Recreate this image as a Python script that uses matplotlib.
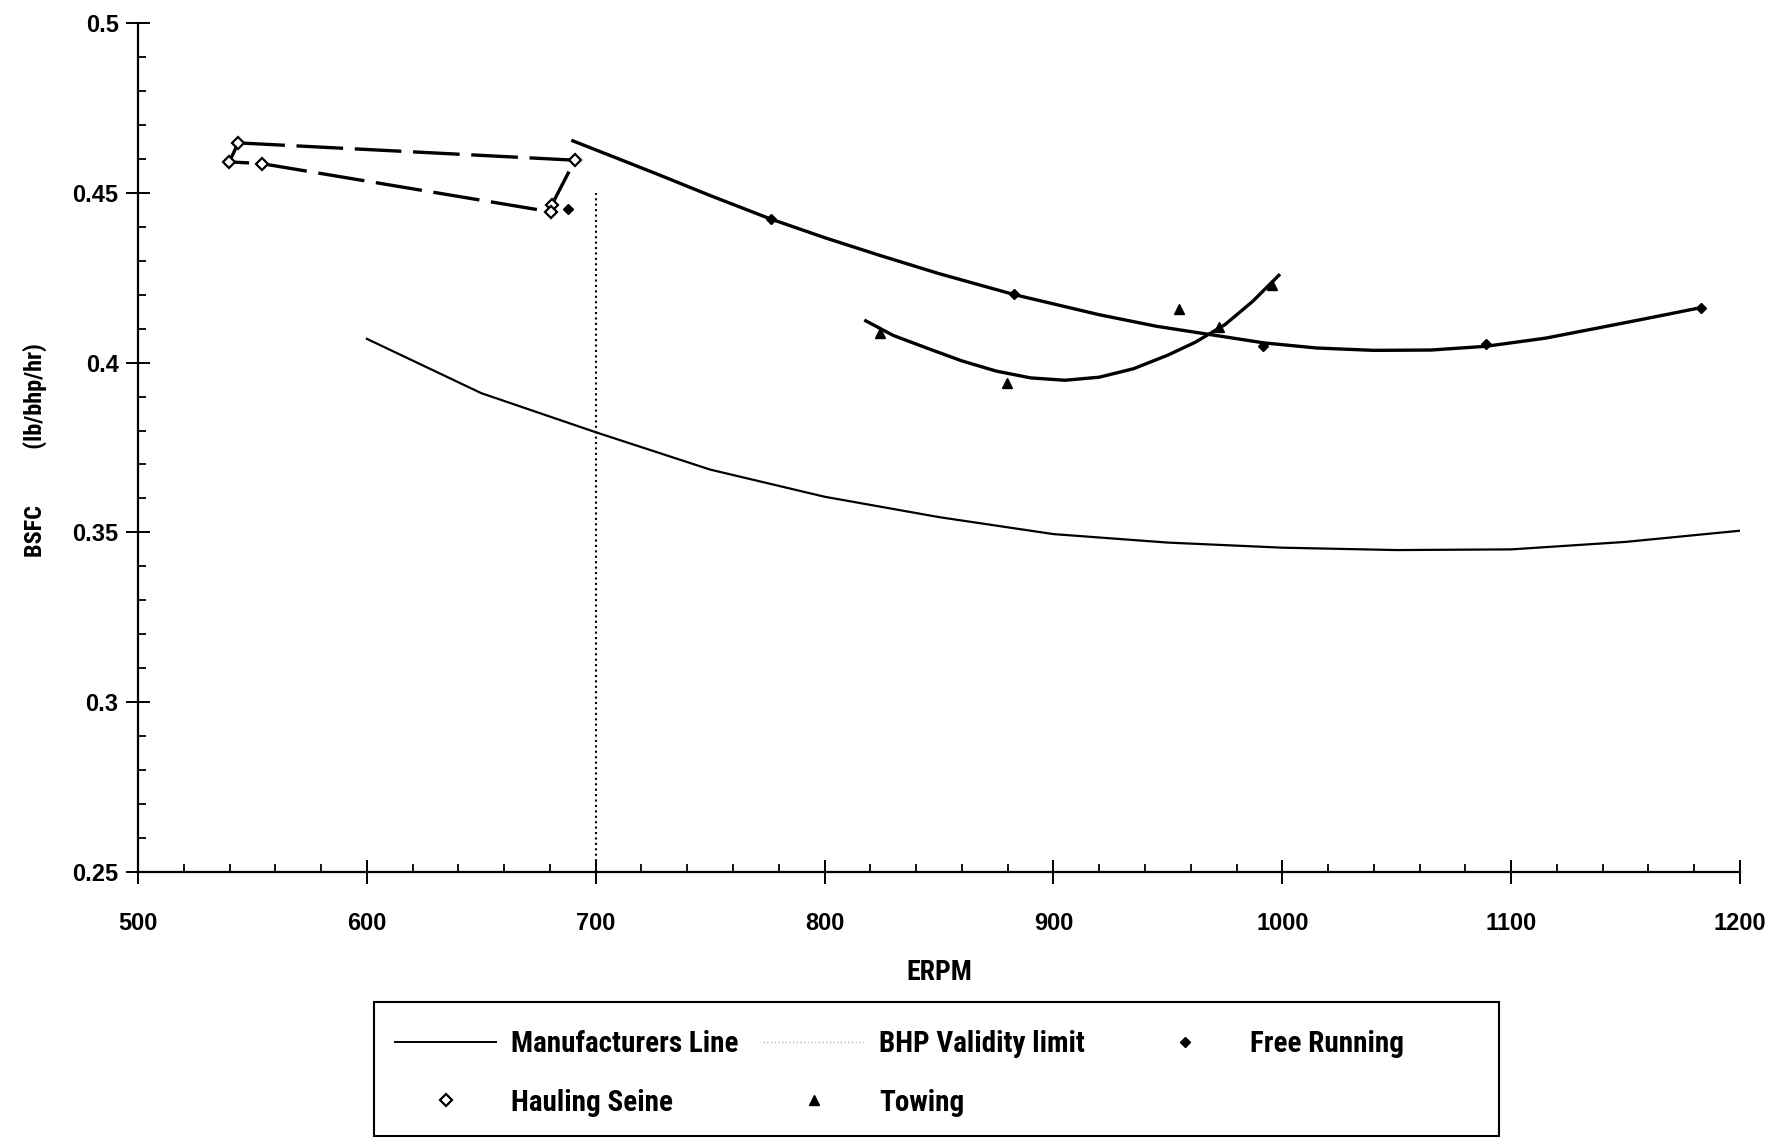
import matplotlib
matplotlib.use("Agg")
import matplotlib.pyplot as plt
from matplotlib import font_manager
from matplotlib.lines import Line2D
from matplotlib.patches import Rectangle
from matplotlib.ticker import MultipleLocator, FuncFormatter

# manufacturers line (BSFC vs engine rpm)
mfr_rpm = [600, 650, 700, 750, 800, 850, 900, 950, 1000, 1050, 1100, 1150, 1200]
mfr_bsfc = [0.407, 0.391, 0.3795, 0.3685, 0.3605, 0.3545, 0.3495, 0.347,
            0.3455, 0.3448, 0.345, 0.3472, 0.3505]

# BHP validity limit
bhp_limit_rpm = 700
bhp_limit_top = 0.45

# free running measurements and trend line
free_rpm = [688, 776.4, 882.8, 991.7, 1088.9, 1182.9]
free_bsfc = [0.4451, 0.4422, 0.4201, 0.4048, 0.4054, 0.4162]
free_fit_rpm = [690, 710, 728, 750, 776, 800, 824, 850, 883, 920, 945, 969,
                992, 1015, 1040, 1065, 1089, 1115, 1138, 1160, 1183]
free_fit_bsfc = [0.4653, 0.4600, 0.4552, 0.4492, 0.4424, 0.4368, 0.4316,
                 0.4262, 0.4200, 0.4141, 0.4107, 0.4082, 0.4058, 0.4043,
                 0.4036, 0.4037, 0.4048, 0.4072, 0.4102, 0.4131, 0.4162]

# hauling seine (joined in recorded order)
haul_rpm = [543.8, 690.9, 680.7, 680.3, 554.0, 539.9]
haul_bsfc = [0.4647, 0.4596, 0.4463, 0.4444, 0.4586, 0.4591]

# towing measurements and trend line
tow_rpm = [824.2, 879.6, 955.0, 972.2, 995.5]
tow_bsfc = [0.4086, 0.3939, 0.4159, 0.4105, 0.4228]
tow_fit_rpm = [818, 830, 845, 860, 875, 890, 905, 920, 935, 950, 962, 975,
               987, 998.5]
tow_fit_bsfc = [0.4123, 0.4080, 0.4042, 0.4005, 0.3975, 0.3955, 0.3948,
                0.3957, 0.3982, 0.4022, 0.4060, 0.4112, 0.4180, 0.4257]

legend_cols = [["Manufacturers Line", "Hauling Seine"],
               ["BHP Validity limit", "Towing"],
               ["Free Running"]]

# fonts: a narrow bold face if one is installed
names = {f.name for f in font_manager.fontManager.ttflist}
narrow, stretch, shrink = "Liberation Sans", "normal", 0.86
for cand in ["Liberation Sans Narrow", "Arial Narrow", "Roboto Condensed",
             "Open Sans Condensed", "Noto Sans Condensed"]:
    if cand in names:
        narrow, shrink = cand, 1.0
        break
else:
    for f in font_manager.fontManager.ttflist:
        if "condensed" in str(f.stretch) and f.name in ("Noto Sans", "Open Sans",
                                                         "DejaVu Sans", "Roboto"):
            narrow, stretch, shrink = f.name, "condensed", 1.0
            break
plt.rcParams["font.family"] = ["Liberation Sans", "DejaVu Sans"]
nfont = {"family": narrow, "stretch": stretch, "weight": "bold"}

W, H = 1776, 1138
fig = plt.figure(figsize=(W / 100, H / 100), dpi=100)
ax = fig.add_axes([138 / W, 1 - 872 / H, 1602 / W, 849 / H])

ax.plot(mfr_rpm, mfr_bsfc, color="black", lw=1.6, zorder=3)
ax.plot([bhp_limit_rpm, bhp_limit_rpm], [0.25, bhp_limit_top], color="black",
        lw=1.5, ls=(0, (1, 1.6)), zorder=2)
ax.plot(free_fit_rpm, free_fit_bsfc, color="black", lw=2.4, zorder=3)
ax.plot(tow_fit_rpm, tow_fit_bsfc, color="black", lw=2.4, zorder=3)
haul_line, = ax.plot(haul_rpm + haul_rpm[:1], haul_bsfc + haul_bsfc[:1],
                     color="black", lw=2.4, zorder=3)
haul_line.set_dashes([14, 3.5])

ax.plot(free_rpm, free_bsfc, ls="none", marker="D", ms=5, color="black", zorder=4)
ax.plot(tow_rpm, tow_bsfc, ls="none", marker="^", ms=7, color="black", zorder=4)
ax.plot(haul_rpm, haul_bsfc, ls="none", marker="D", ms=6.5, mfc="white",
        mec="black", mew=1.6, zorder=5)

ax.set_xlim(500, 1200)
ax.set_ylim(0.25, 0.5)
ax.xaxis.set_major_locator(MultipleLocator(100))
ax.xaxis.set_minor_locator(MultipleLocator(20))
ax.yaxis.set_major_locator(MultipleLocator(0.05))
ax.yaxis.set_minor_locator(MultipleLocator(0.01))
ax.yaxis.set_major_formatter(FuncFormatter(lambda v, _: f"{v:g}"))

for s in ["top", "right"]:
    ax.spines[s].set_visible(False)
for s in ["left", "bottom"]:
    ax.spines[s].set_linewidth(1.6)

ax.tick_params(which="major", direction="inout", length=17, width=1.4)
ax.tick_params(which="minor", direction="in", length=5.5, width=1.3)
ax.tick_params(axis="x", which="major", pad=20.5)
ax.tick_params(axis="y", which="major", pad=5.5)
for lab in ax.get_xticklabels() + ax.get_yticklabels():
    lab.set_fontsize(17)
    lab.set_fontweight("bold")

ax.set_xlabel("ERPM", fontsize=20 * shrink, **nfont)
ax.xaxis.set_label_coords(0.5, -0.102)
ax.set_ylabel("BSFC          (lb/bhp/hr)", fontsize=17.5 * shrink, **nfont)
ax.yaxis.set_label_coords(-0.0568, 0.497)

# legend: frame drawn separately, one legend per column
fig.patches.append(Rectangle((374 / W, 2 / H), 1125 / W, 134 / H,
                             transform=fig.transFigure, fill=False,
                             edgecolor="black", lw=1.5))
handles = {
    "Manufacturers Line": Line2D([], [], color="black", lw=1.4),
    "Hauling Seine": Line2D([], [], ls="none", marker="D", ms=6.5, mfc="white",
                            mec="black", mew=1.6),
    "BHP Validity limit": Line2D([], [], color="0.7", lw=1.0, ls=":"),
    "Towing": Line2D([], [], ls="none", marker="^", ms=7, color="black"),
    "Free Running": Line2D([], [], ls="none", marker="D", ms=5, color="black"),
}
leg_fs = 21 * shrink
fs_px = leg_fs * 100 / 72
for col_x, labels in zip([395, 763, 1134], legend_cols):
    fig.legend([handles[l] for l in labels], labels, loc="upper left",
               bbox_to_anchor=(col_x / W, (H - (1041 - 0.37 * fs_px)) / H),
               frameon=False, borderpad=0, borderaxespad=0,
               handlelength=101 / fs_px, handletextpad=15 / fs_px,
               labelspacing=(59 - 0.98 * fs_px) / fs_px,
               prop={**nfont, "size": leg_fs})

fig.savefig("out.png", dpi=100, facecolor="white")
